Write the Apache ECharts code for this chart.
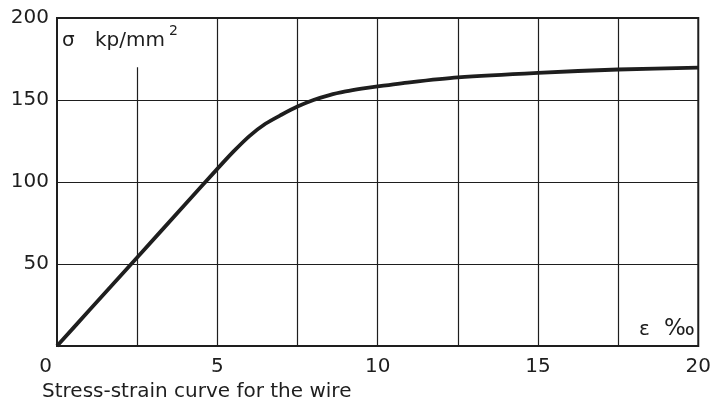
<!DOCTYPE html>
<html>
<head>
<meta charset="utf-8">
<script src="https://cdn.jsdelivr.net/npm/echarts@6/dist/echarts.min.js"></script>
<style>html,body{margin:0;padding:0;background:#fff;}#c{width:714px;height:412px;}</style>
</head>
<body>
<div id="c"></div>
<script>
// strain ε in ‰
var strain = [0, 1, 2.5, 4, 5, 5.5, 6, 6.5, 7, 7.5, 8, 8.5, 9, 9.5, 10, 11, 12.5, 15, 17.5, 20];
// stress σ in kp/mm²
var stress = [0, 21.6, 54, 86.4, 108, 118.5, 128, 135.5, 141, 146, 150, 153, 155.2, 156.9, 158.3, 160.8, 163.8, 166.6, 168.6, 169.7];
var xTicks = [2.5, 5, 7.5, 10, 12.5, 15, 17.5];
var yTickLabels = [50, 100, 150, 200];
var caption = 'Stress-strain curve for the wire';

var FONT = 'DejaVu Sans';
var INK = '#1e1e1e';

var vLines = xTicks.map(function (v) {
  return [{ coord: [v, 0] }, { coord: [v, v === 2.5 ? 170 : 200] }];
});

var chart = echarts.init(document.getElementById('c'), null, { renderer: 'canvas' });
chart.setOption({
  animation: false,
  backgroundColor: '#fff',
  grid: { left: 57, top: 18, width: 646, height: 328, show: true, borderColor: INK, borderWidth: 2, backgroundColor: 'transparent' },
  xAxis: {
    type: 'value', min: 0, max: 20, interval: 2.5,
    axisLine: { show: false }, axisTick: { show: false }, splitLine: { show: false },
    axisLabel: {
      margin: 11, fontFamily: FONT, fontSize: 20, color: INK,
      alignMinLabel: 'right', alignMaxLabel: 'center',
      formatter: function (v) {
        if (v === 0) return '{z|0}';
        return v % 5 === 0 ? String(v) : '';
      },
      rich: { z: { fontFamily: FONT, fontSize: 20, color: INK, padding: [0, 5, 0, 0] } }
    }
  },
  yAxis: {
    type: 'value', min: 0, max: 200, interval: 50,
    axisLine: { show: false }, axisTick: { show: false },
    splitLine: { show: true, lineStyle: { color: INK, width: 1.2 } },
    axisLabel: {
      margin: 8, fontFamily: FONT, fontSize: 20, color: INK,
      formatter: function (v) { return yTickLabels.indexOf(v) >= 0 ? String(v) : ''; }
    }
  },
  series: [{
    type: 'line',
    data: strain.map(function (x, i) { return [x, stress[i]]; }),
    smooth: 0.25,
    symbol: 'none',
    lineStyle: { color: INK, width: 3.8 },
    z: 5,
    markLine: {
      silent: true, symbol: 'none', label: { show: false },
      lineStyle: { color: INK, width: 1.2, type: 'solid' },
      data: vLines,
      z: 1
    }
  }],
  graphic: [
    { type: 'text', left: 62, top: 31, style: { text: 'σ', fontFamily: FONT, fontSize: 20, fill: INK } },
    { type: 'text', left: 95, top: 31, style: { text: 'kp/mm', fontFamily: FONT, fontSize: 20, fill: INK } },
    { type: 'text', left: 169, top: 24, style: { text: '2', fontFamily: FONT, fontSize: 14, fill: INK } },
    { type: 'text', left: 639, top: 320, style: { text: 'ε', fontFamily: FONT, fontSize: 20, fill: INK } },
    { type: 'text', left: 664, top: 318, style: { text: '‰', fontFamily: FONT, fontSize: 23, fill: INK } },
    { type: 'text', left: 42, top: 382, style: { text: caption, fontFamily: FONT, fontSize: 20, fill: INK } }
  ]
});
</script>
</body>
</html>
